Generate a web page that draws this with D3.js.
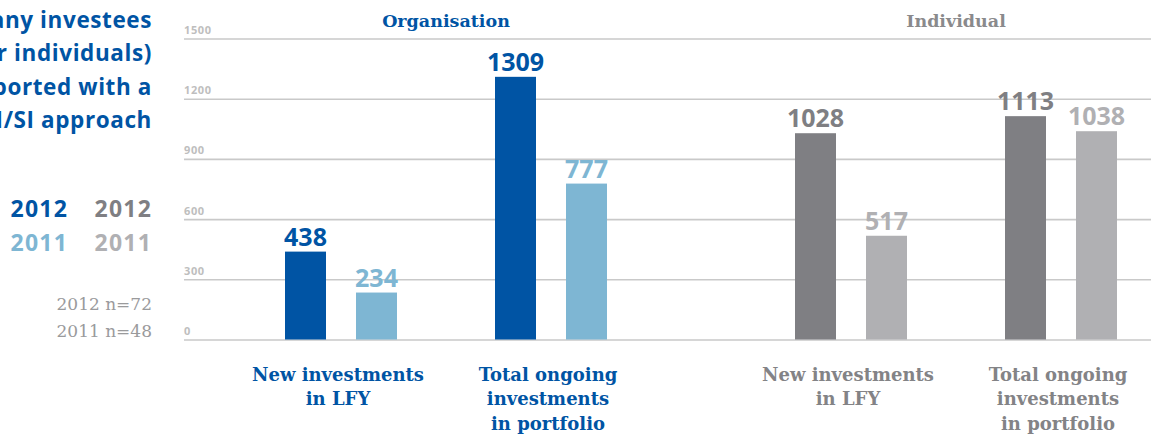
<!DOCTYPE html>
<html>
<head>
<meta charset="utf-8">
<script src="https://cdn.jsdelivr.net/npm/d3@7"></script>
<style>
  body { margin: 0; background: #fff; }
  svg { display: block; }
</style>
</head>
<body>
<svg id="chart" width="1151" height="436"></svg>
<script>
// chart data
var groups = ["Organisation", "Individual"];
var categories = ["new", "total"];
var categoryLines = [["New investments", "in LFY"], ["Total ongoing", "investments", "in portfolio"]];
var years = ["2012", "2011"];
var org2012 = [438, 1309];
var org2011 = [234, 777];
var ind2012 = [1028, 1113];
var ind2011 = [517, 1038];
var yTicks = [0, 300, 600, 900, 1200, 1500];
var titleLines = ["How many investees", "(organisations or individuals)", "were supported with a", "SRI/SI approach"];
var sampleNotes = ["2012 n=72", "2011 n=48"];

var colors = {
    Organisation: {"2012": "#0054a4", "2011": "#7eb6d3"},
    Individual: {"2012": "#7f7f83", "2011": "#b0b0b3"}
};
var headerColor = {Organisation: "#0054a4", Individual: "#8a8a8c"};
var labelColor = {Organisation: "#0054a4", Individual: "#838386"};

var seriesByGroup = {
    Organisation: {"2012": org2012, "2011": org2011},
    Individual: {"2012": ind2012, "2011": ind2011}
};

var svg = d3.select("#chart");

// scales
var x0 = d3.scalePoint().domain(groups).range([446, 956]);
var x1 = d3.scalePoint().domain(categories).range([-105, 105]);
var x2 = d3.scaleBand().domain(years).range([-56, 56]).paddingInner(0.4225);
var y = d3.scaleLinear().domain([0, 1500]).range([339.5, 38.5]);

// gridlines + tick labels
var yAxis = svg.append("g")
    .attr("transform", "translate(184,0)")
    .call(d3.axisRight(y).tickValues(yTicks).tickSize(967).tickFormat(d3.format("d")));
yAxis.select(".domain").remove();
yAxis.selectAll(".tick line").attr("stroke", "#c9c9c9").attr("stroke-width", 1.6);
yAxis.selectAll(".tick text")
    .attr("x", 0)
    .attr("dy", -5)
    .attr("text-anchor", "start")
    .attr("fill", "#bebebe")
    .style("font", "bold 11px 'Open Sans', sans-serif")
    .style("letter-spacing", "0.6px");

// flat list of bars
var bars = [];
groups.forEach(function (g) {
    categories.forEach(function (c, i) {
        years.forEach(function (yr) {
            bars.push({group: g, cat: c, year: yr, value: seriesByGroup[g][yr][i]});
        });
    });
});

function barX(d) {
    return x0(d.group) + x1(d.cat) + x2(d.year);
}

svg.selectAll(".bar")
    .data(bars)
    .enter().append("rect")
    .attr("class", "bar")
    .attr("x", barX)
    .attr("y", function (d) { return y(d.value); })
    .attr("width", x2.bandwidth())
    .attr("height", function (d) { return y(0) - y(d.value); })
    .attr("fill", function (d) { return colors[d.group][d.year]; });

svg.selectAll(".val")
    .data(bars)
    .enter().append("text")
    .attr("class", "val")
    .attr("x", function (d) { return barX(d) + x2.bandwidth() / 2; })
    .attr("y", function (d) { return y(d.value) - 6; })
    .attr("text-anchor", "middle")
    .attr("fill", function (d) { return colors[d.group][d.year]; })
    .style("font", "bold 25px 'Open Sans', sans-serif")
    .text(function (d) { return d.value; });

// group headers
svg.selectAll(".header")
    .data(groups)
    .enter().append("text")
    .attr("class", "header")
    .attr("x", function (g) { return x0(g); })
    .attr("y", 27)
    .attr("text-anchor", "middle")
    .attr("fill", function (g) { return headerColor[g]; })
    .style("font", "bold 17.5px 'DejaVu Serif', serif")
    .text(function (g) { return g; });

// category labels
var lineY = [381, 405, 430];
groups.forEach(function (g) {
    categories.forEach(function (c, i) {
        var t = svg.append("text")
            .attr("text-anchor", "middle")
            .attr("fill", labelColor[g])
            .style("font", "bold 18px 'DejaVu Serif', serif");
        categoryLines[i].forEach(function (line, k) {
            t.append("tspan")
                .attr("x", x0(g) + x1(c) - 3)
                .attr("y", lineY[k])
                .text(line);
        });
    });
});

// left title (cropped at the page edge, as in the original)
var titleY = [28, 61, 95, 128];
svg.selectAll(".title")
    .data(titleLines)
    .enter().append("text")
    .attr("x", 152)
    .attr("y", function (d, i) { return titleY[i]; })
    .attr("text-anchor", "end")
    .attr("fill", "#0054a4")
    .style("font", "bold 22.5px 'Open Sans', sans-serif")
    .style("letter-spacing", "0.6px")
    .text(function (d) { return d; });

// legend
var legend = [
    {text: "2012", x: 68, y: 217, color: colors.Organisation["2012"]},
    {text: "2012", x: 152, y: 217, color: colors.Individual["2012"]},
    {text: "2011", x: 68, y: 251, color: colors.Organisation["2011"]},
    {text: "2011", x: 152, y: 251, color: colors.Individual["2011"]}
];
svg.selectAll(".leg")
    .data(legend)
    .enter().append("text")
    .attr("x", function (d) { return d.x; })
    .attr("y", function (d) { return d.y; })
    .attr("text-anchor", "end")
    .attr("fill", function (d) { return d.color; })
    .style("font", "bold 23px 'Open Sans', sans-serif")
    .style("letter-spacing", "1.2px")
    .text(function (d) { return d.text; });

svg.selectAll(".note")
    .data(sampleNotes)
    .enter().append("text")
    .attr("x", 152)
    .attr("y", function (d, i) { return 310 + i * 27; })
    .attr("text-anchor", "end")
    .attr("fill", "#9a9a9c")
    .style("font", "17px 'DejaVu Serif', serif")
    .text(function (d) { return d; });
</script>
</body>
</html>
